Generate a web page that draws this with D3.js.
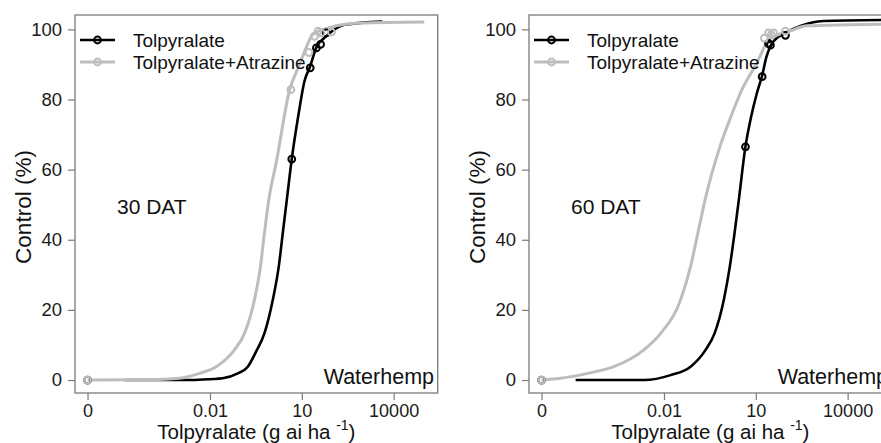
<!DOCTYPE html>
<html>
<head>
<meta charset="utf-8">
<script src="https://cdn.jsdelivr.net/npm/d3@7"></script>
<style>
  body { margin: 0; background: #fff; }
  svg { display: block; font-family: "Liberation Sans", Arial, sans-serif; }
</style>
</head>
<body>
<div class="container"></div>
<script>
// chart size
const width = 881;
const height = 443;

// axis ticks
const yTicks = [0, 20, 40, 60, 80, 100];
const xTickValues = [0, 0.01, 10, 10000];
const xTickLabels = ["0", "0.01", "10", "10000"];
const zeroDose = 1e-6; // where dose 0 is drawn on the log axis

const seriesNames = ["Tolpyralate", "Tolpyralate+Atrazine"];

// 30 DAT: observed means [dose, control %]
const pts30Tol = [[0, 0], [4.7, 63], [18.8, 89], [30, 94.7], [41, 95.7], [63, 99]];
const pts30TolAtr = [[0, 0], [4.4, 82.8], [17, 93.4], [26, 98], [34, 99.5], [43, 99], [93, 99.2]];

// 30 DAT: fitted curves [dose, control %]
const curve30Tol = [[1.6e-5, 0], [0.0017, 0], [0.0045, 0.1], [0.026, 0.5], [0.081, 1.9], [0.172, 3.8],
  [0.32, 8.1], [0.6, 13.3], [1.13, 22.9], [1.77, 32.4], [2.39, 41.9], [3.24, 51.4], [4.71, 63.1],
  [7.8, 75.7], [12.2, 85.2], [18.8, 89.5], [29.6, 94.8], [62.7, 98], [248, 101.3], [4300, 102.2]];
const curve30TolAtr = [[1e-6, 0], [1e-4, 0.1], [0.001, 0.5], [0.0045, 1.9], [0.016, 3.8], [0.063, 8.6],
  [0.134, 13.3], [0.284, 22.9], [0.447, 32.4], [0.6, 41.9], [0.835, 51.4], [1.46, 62], [3.96, 82.6],
  [8.4, 90], [13.9, 94.8], [22.9, 98.6], [80, 100.5], [770, 101.8], [1e5, 102.1]];

// 60 DAT: observed means
const pts60Tol = [[0, 0], [4.6, 66.5], [16.1, 86.5], [26, 96], [30, 95.5], [93, 98.3]];
const pts60TolAtr = [[0, 0], [19, 97.5], [26, 99], [32, 98.5], [38, 99], [93, 99.5]];

// 60 DAT: fitted curves
const curve60Tol = [[1.3e-5, 0], [0.0022, 0], [0.0165, 1.4], [0.074, 3.8], [0.229, 8.6], [0.45, 13.3],
  [0.904, 22.9], [1.42, 32.4], [2.02, 41.9], [2.79, 51.4], [4.61, 66.7], [7, 75], [11, 82],
  [16.1, 86.8], [22, 92], [30, 95.2], [38.6, 96.7], [93, 99], [287, 101], [1610, 102.4], [1.5e5, 102.7]];
const curve60TolAtr = [[1e-6, 0], [4.3e-6, 0.5], [3.2e-5, 1.9], [2.3e-4, 3.8], [0.0022, 8.6], [0.0078, 13.3],
  [0.035, 22.9], [0.074, 32.4], [0.128, 41.9], [0.22, 51.4], [0.7, 67], [1.6, 75.5], [3.4, 82.5],
  [11, 90.5], [26.5, 97], [135, 99.6], [474, 101], [1.5e5, 101.5]];

const colors = ["#000000", "#bdbdbd"];

const svg = d3.select(".container")
  .append("svg")
  .attr("width", width)
  .attr("height", height);

// one panel of the figure
function drawPanel(left, label, curves, points) {
  const top = 15, bottom = 393, boxW = 362.7;

  const x = d3.scaleLog()
    .domain([Math.pow(10, -6.41), Math.pow(10, 5.44)])
    .range([left, left + boxW]);
  const y = d3.scaleLinear()
    .domain([-3.7, 104.1])
    .range([bottom, top]);
  const xd = d => x(d === 0 ? zeroDose : d);

  const g = svg.append("g");

  // y axis
  g.append("g")
    .attr("transform", `translate(${left},0)`)
    .call(d3.axisLeft(y).tickValues(yTicks).tickSize(7).tickPadding(6))
    .call(a => a.select(".domain").remove())
    .call(a => a.selectAll("line").attr("stroke", "#7a7a7a").attr("stroke-width", 1.2))
    .call(a => a.selectAll("text").attr("font-size", "18.5px").attr("fill", "#1a1a1a")
      .attr("font-family", "Liberation Sans, Arial, sans-serif"));

  // x axis
  g.append("g")
    .attr("transform", `translate(0,${bottom})`)
    .call(d3.axisBottom(x).tickValues(xTickValues.map(d => d === 0 ? zeroDose : d))
      .tickFormat((d, i) => xTickLabels[i]).tickSize(7).tickPadding(4))
    .call(a => a.select(".domain").remove())
    .call(a => a.selectAll("line").attr("stroke", "#7a7a7a").attr("stroke-width", 1.2))
    .call(a => a.selectAll("text").attr("font-size", "18px").attr("fill", "#1a1a1a")
      .attr("font-family", "Liberation Sans, Arial, sans-serif"));

  // box
  g.append("rect")
    .attr("x", left).attr("y", top)
    .attr("width", boxW).attr("height", bottom - top)
    .attr("fill", "none").attr("stroke", "#7a7a7a").attr("stroke-width", 1.3);

  // curves, black first then grey over it
  const line = d3.line()
    .x(d => xd(d[0]))
    .y(d => y(d[1]))
    .curve(d3.curveMonotoneX);

  curves.forEach((c, i) => {
    g.append("path")
      .datum(c)
      .attr("d", line)
      .attr("fill", "none")
      .attr("stroke", colors[i])
      .attr("stroke-width", i === 0 ? 2.6 : 3);
  });

  points.forEach((p, i) => {
    g.append("g")
      .selectAll("circle")
      .data(p)
      .join("circle")
      .attr("cx", d => xd(d[0]))
      .attr("cy", d => y(d[1]))
      .attr("r", 3.4)
      .attr("fill", "none")
      .attr("stroke", colors[i])
      .attr("stroke-width", 2);
  });

  // legend
  seriesNames.forEach((name, i) => {
    const ly = 40 + i * 22;
    g.append("line")
      .attr("x1", left + 5).attr("x2", left + 40)
      .attr("y1", ly).attr("y2", ly)
      .attr("stroke", colors[i]).attr("stroke-width", i === 0 ? 2.6 : 3);
    g.append("circle")
      .attr("cx", left + 22.5).attr("cy", ly).attr("r", 3.4)
      .attr("fill", "none").attr("stroke", colors[i]).attr("stroke-width", 2);
    g.append("text")
      .attr("x", left + 58).attr("y", ly).attr("dy", "0.35em")
      .attr("font-size", "19px").attr("fill", "#111")
      .text(name);
  });

  // panel annotations
  g.append("text")
    .attr("x", left + 42).attr("y", 214)
    .attr("font-size", "21px").attr("fill", "#111")
    .text(label);
  g.append("text")
    .attr("x", left + boxW - 3.7).attr("y", 383.5)
    .attr("text-anchor", "end")
    .attr("font-size", "21.5px").attr("fill", "#111")
    .text("Waterhemp");

  // axis titles
  g.append("text")
    .attr("transform", `translate(${left - 52},207) rotate(-90)`)
    .attr("text-anchor", "middle")
    .attr("dy", "0.35em")
    .attr("font-size", "22.5px").attr("fill", "#111")
    .text("Control (%)");

  const xt = g.append("text")
    .attr("x", left + boxW / 2).attr("y", 438.5)
    .attr("text-anchor", "middle")
    .attr("font-size", "20.5px").attr("fill", "#111");
  xt.append("tspan").text("Tolpyralate (g ai ha ");
  xt.append("tspan").attr("font-size", "14px").attr("dy", -9).text("-1");
  xt.append("tspan").attr("dy", 9).text(")");
}

drawPanel(75, "30 DAT", [curve30Tol, curve30TolAtr], [pts30Tol, pts30TolAtr]);
drawPanel(529, "60 DAT", [curve60Tol, curve60TolAtr], [pts60Tol, pts60TolAtr]);
</script>
</body>
</html>
